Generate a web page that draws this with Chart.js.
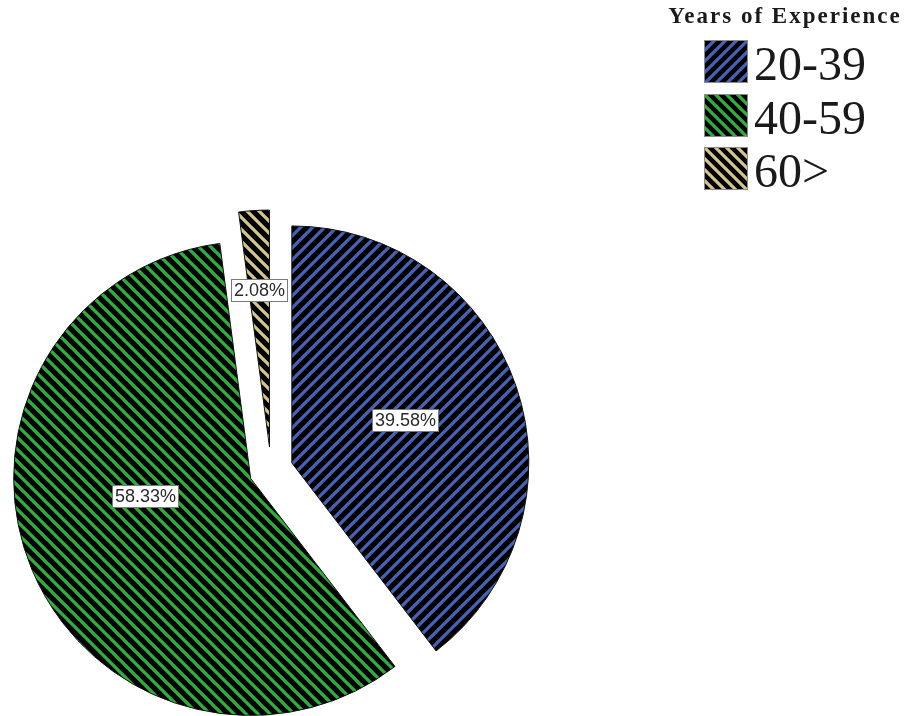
<!DOCTYPE html>
<html>
<head>
<meta charset="utf-8">
<script src="https://cdn.jsdelivr.net/npm/chart.js@4/dist/chart.umd.min.js"></script>
<style>
    html, body { margin: 0; padding: 0; background: #fff; }
    #wrap { position: relative; width: 906px; height: 716px; overflow: hidden; }
    #pie { position: absolute; left: 0; top: 0; }
    .lg-title {
        position: absolute; left: 664px; width: 242px; top: 3px;
        text-align: center; white-space: nowrap; color: #1a1a1a;
        font: bold 23px "Liberation Serif", serif; letter-spacing: 2px;
    }
    .lg-item { position: absolute; left: 704px; height: 48px; }
    .lg-item canvas { position: absolute; left: 0; top: 0; }
    .lg-item span {
        position: absolute; left: 50px; top: 0; white-space: nowrap; color: #1a1a1a;
        font: 48px/48px "Liberation Serif", serif;
    }
</style>
</head>
<body>
<div id="wrap">
    <canvas id="pie" width="906" height="716"></canvas>
    <div id="legend"></div>
</div>
<script>
        const categories = ['20-39', '40-59', '60>'];
        const percentages = [39.58, 58.33, 2.08];
        const legendTitle = 'Years of Experience';

        const stripeColors = ['#4463b8', '#2fb03e', '#d4c58f'];
        const stripeDirs = ['/', '\\', '\\'];

        // black tile with coloured diagonal stripes (SPSS style hatching)
        function makeTile(color, dir, s, w) {
            const c = document.createElement('canvas');
            c.width = s; c.height = s;
            const g = c.getContext('2d');
            g.fillStyle = '#000';
            g.fillRect(0, 0, s, s);
            g.strokeStyle = color;
            g.lineWidth = w;
            g.beginPath();
            for (const o of [-s, 0, s]) {
                if (dir === '/') {
                    g.moveTo(o - 2, s + 2); g.lineTo(o + s + 2, -2);
                } else {
                    g.moveTo(o - 2, -2); g.lineTo(o + s + 2, s + 2);
                }
            }
            g.stroke();
            return c;
        }

        const ctx = document.getElementById('pie').getContext('2d');
        const patterns = stripeColors.map((c, i) => ctx.createPattern(makeTile(c, stripeDirs[i], 12, 3.3), 'repeat'));

        // pull every slice out along its middle angle (chart.js offset also grows the radius, so do it by hand)
        const explodeGap = [22, 22, 23];
        const explode = {
            id: 'explode',
            afterDatasetUpdate(chart, args) {
                args.meta.data.forEach((arc, i) => {
                    const mid = (arc.startAngle + arc.endAngle) / 2;
                    arc.x += Math.cos(mid) * explodeGap[i];
                    arc.y += Math.sin(mid) * explodeGap[i];
                });
            }
        };

        const labelDist = [0.51, 0.45, 0.66];
        const labelTurn = [-0.03, 0.22, 0];

        const pctLabels = {
            id: 'pctLabels',
            afterDatasetsDraw(chart) {
                const c = chart.ctx;
                const meta = chart.getDatasetMeta(0);
                c.save();
                c.font = '18px "Liberation Sans", Arial, sans-serif';
                c.textAlign = 'center';
                c.textBaseline = 'middle';
                meta.data.forEach((arc, i) => {
                    const mid = (arc.startAngle + arc.endAngle) / 2 + labelTurn[i];
                    const d = arc.outerRadius * labelDist[i];
                    const lx = arc.x + Math.cos(mid) * d;
                    const ly = arc.y + Math.sin(mid) * d;
                    const txt = percentages[i].toFixed(2) + '%';
                    const w = Math.round(c.measureText(txt).width + 6);
                    const h = 23;
                    const x0 = Math.round(lx - w / 2), y0 = Math.round(ly - h / 2);
                    c.fillStyle = '#fff';
                    c.fillRect(x0, y0, w, h);
                    c.strokeStyle = '#7a7a7a';
                    c.lineWidth = 1;
                    c.strokeRect(x0 + 0.5, y0 + 0.5, w - 1, h - 1);
                    c.fillStyle = '#2a2a2a';
                    c.fillText(txt, x0 + w / 2, y0 + h / 2 + 1);
                });
                c.restore();
            }
        };

        new Chart(ctx, {
            type: 'pie',
            data: {
                labels: categories,
                datasets: [{
                    data: percentages,
                    backgroundColor: patterns,
                    borderColor: '#111',
                    borderWidth: 1,
                    hoverOffset: 0,
                    clip: false
                }]
            },
            options: {
                responsive: false,
                animation: false,
                radius: 237,
                layout: { padding: { left: 0, right: 364, top: 224, bottom: 0 } },
                plugins: { legend: { display: false }, tooltip: { enabled: false } },
                events: []
            },
            plugins: [explode, pctLabels]
        });

        // legend on the right
        const lg = document.getElementById('legend');
        lg.innerHTML = `<div class="lg-title">${legendTitle}</div>` + categories.map((cat, i) => `
            <div class="lg-item" style="top:${40 + i * 53.5}px">
                <canvas width="44" height="43"></canvas>
                <span>${cat.replace('>', '&gt;')}</span>
            </div>`).join('');
        lg.querySelectorAll('.lg-item canvas').forEach((cv, i) => {
            const g = cv.getContext('2d');
            g.fillStyle = g.createPattern(makeTile(stripeColors[i], stripeDirs[i], 11, 3.2), 'repeat');
            g.fillRect(0, 0, 44, 43);
            g.strokeStyle = '#8a8a8a';
            g.lineWidth = 1;
            g.strokeRect(0.5, 0.5, 43, 42);
        });
</script>
</body>
</html>
